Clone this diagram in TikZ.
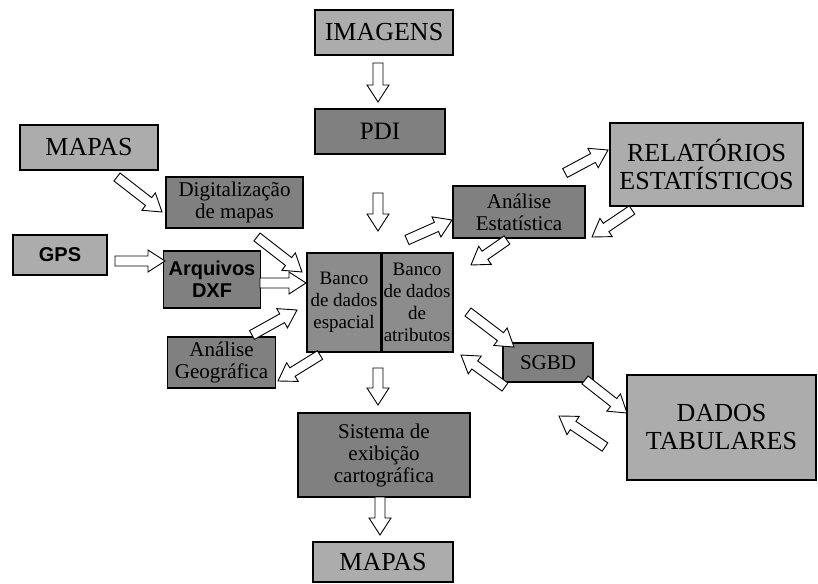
\documentclass[tikz,border=0pt]{standalone}
\usepackage{fontspec}
\setmainfont{Liberation Serif}
\newfontfamily\sansf{Liberation Sans}
\usetikzlibrary{calc}
\definecolor{lightg}{RGB}{172,172,172}
\definecolor{darkg}{RGB}{128,128,128}
\definecolor{midg}{RGB}{140,140,140}
\tikzset{
  box/.style={draw=black, line width=1.3pt, align=center, inner sep=1pt, text=black},
  lbox/.style={box, fill=lightg, font=\fontsize{26}{28}\selectfont},
  dbox/.style={box, fill=darkg, font=\fontsize{21}{22}\selectfont},
  sbox/.style={box, fill=darkg, font=\sansf\bfseries\fontsize{20}{22}\selectfont},
  blockarrow/.style={draw=black, line width=0.9pt, fill=white, line join=miter},
}
\newcommand\blockarr[2]{%
  \coordinate (ba-h) at ($(#2)!17pt!(#1)$);
  \draw[blockarrow] ($(#1)!5pt!90:(#2)$) -- ($(ba-h)!5pt!90:(#2)$) -- ($(ba-h)!11pt!90:(#2)$) -- (#2)
    -- ($(ba-h)!11pt!-90:(#2)$) -- ($(ba-h)!5pt!-90:(#2)$) -- ($(#1)!5pt!-90:(#2)$) -- cycle;
}
\begin{document}
\begin{tikzpicture}[x=1pt, y=-1pt]
\useasboundingbox (0,0) rectangle (818,583);
% boxes
\node[lbox, minimum width=138pt, minimum height=45pt] (imagens) at (384,32.5) {IMAGENS};
\node[dbox, minimum width=130pt, minimum height=45pt, font=\fontsize{25}{27}\selectfont] (pdi) at (380,131.5) {PDI};
\node[lbox, minimum width=138pt, minimum height=45pt] (mapasA) at (89,147.5) {MAPAS};
\node[dbox, minimum width=137pt, minimum height=51pt] (digit) at (234.5,202.5) {Digitalização\\de mapas};
\node[lbox, minimum width=94pt, minimum height=40pt, font=\sansf\bfseries\fontsize{20}{22}\selectfont] (gps) at (60,255) {GPS};
\node[sbox, minimum width=97pt, minimum height=57pt] (dxf) at (212,279.5) {Arquivos\\DXF};
\node[box, fill=midg, minimum width=74pt, minimum height=99pt, font=\fontsize{19}{22}\selectfont] (bancoE) at (344,302.5) {Banco\\de dados\\espacial};
\node[box, fill=midg, minimum width=72pt, minimum height=99pt, font=\fontsize{19}{22}\selectfont] (bancoA) at (417,302.5) {Banco\\de dados\\de\\atributos};
\draw[line width=3pt] (bancoE.north east) -- (bancoE.south east);
\node[dbox, minimum width=108pt, minimum height=51pt] (geo) at (221.5,362.5) {Análise\\Geográfica};
\node[dbox, minimum width=132pt, minimum height=52pt] (estat) at (519,212) {Análise\\Estatística};
\node[lbox, minimum width=193pt, minimum height=83pt] (relat) at (706.5,164.5) {RELATÓRIOS\\ESTATÍSTICOS};
\node[dbox, minimum width=90pt, minimum height=39pt] (sgbd) at (548,362.5) {SGBD};
\node[lbox, minimum width=189pt, minimum height=105pt] (dados) at (721.5,427.5) {DADOS\\TABULARES};
\node[dbox, minimum width=172pt, minimum height=84pt] (sistema) at (384,455) {Sistema de\\exibição\\cartográfica};
\node[lbox, minimum width=140pt, minimum height=40pt] (mapasB) at (383,562) {MAPAS};
% arrow end points
\coordinate (a1s) at (378,63);  \coordinate (a1e) at (378,102);
\coordinate (a2s) at (378,193); \coordinate (a2e) at (378,231);
\coordinate (a3s) at (117,177); \coordinate (a3e) at (162,212);
\coordinate (a4s) at (257,237); \coordinate (a4e) at (302,272);
\coordinate (a5s) at (115,261); \coordinate (a5e) at (165,261);
\coordinate (a6s) at (260,283); \coordinate (a6e) at (306,283);
\coordinate (a7s) at (252,335); \coordinate (a7e) at (297,310);
\coordinate (a8s) at (320,355); \coordinate (a8e) at (278,381);
\coordinate (a9s) at (407,240); \coordinate (a9e) at (452,220);
\coordinate (a10s) at (507,240); \coordinate (a10e) at (471,265);
\coordinate (a11s) at (565,173); \coordinate (a11e) at (608,150);
\coordinate (a12s) at (632,210); \coordinate (a12e) at (592,237);
\coordinate (a13s) at (468,312); \coordinate (a13e) at (514,347);
\coordinate (a14s) at (505,387); \coordinate (a14e) at (461,355);
\coordinate (a15s) at (585,380); \coordinate (a15e) at (627,413);
\coordinate (a16s) at (605,447); \coordinate (a16e) at (559,416);
\coordinate (a17s) at (378,368); \coordinate (a17e) at (378,405);
\coordinate (a18s) at (380,497); \coordinate (a18e) at (380,535);
\blockarr{a1s}{a1e}
\blockarr{a2s}{a2e}
\blockarr{a3s}{a3e}
\blockarr{a4s}{a4e}
\blockarr{a5s}{a5e}
\blockarr{a6s}{a6e}
\blockarr{a7s}{a7e}
\blockarr{a8s}{a8e}
\blockarr{a9s}{a9e}
\blockarr{a10s}{a10e}
\blockarr{a11s}{a11e}
\blockarr{a12s}{a12e}
\blockarr{a13s}{a13e}
\blockarr{a14s}{a14e}
\blockarr{a15s}{a15e}
\blockarr{a16s}{a16e}
\blockarr{a17s}{a17e}
\blockarr{a18s}{a18e}
\end{tikzpicture}
\end{document}
